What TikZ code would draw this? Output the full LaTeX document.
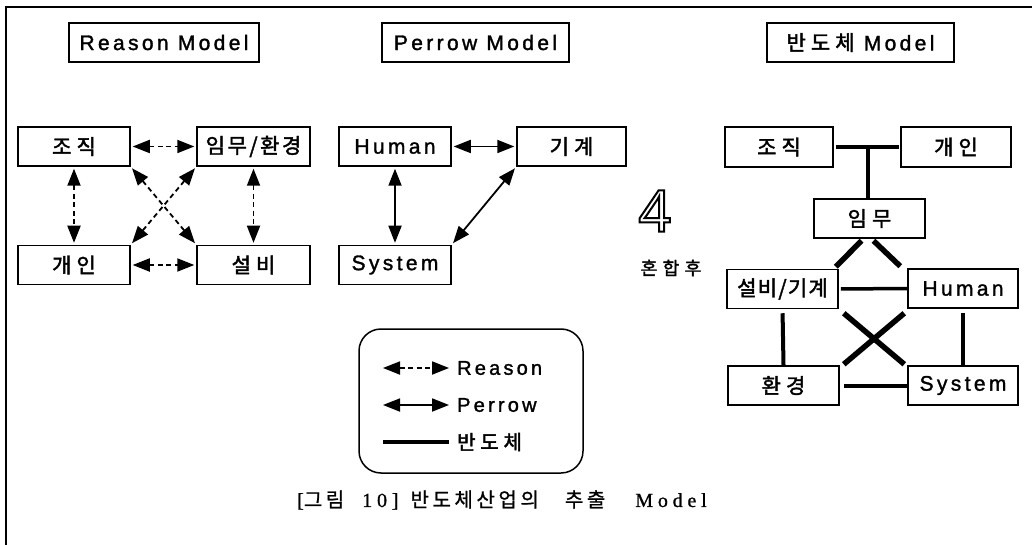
\documentclass[tikz,border=0pt]{standalone}
\usepackage{fontspec}
\setmainfont{Liberation Sans}[LetterSpace=16,FakeBold=1.5]
\newfontfamily\korfont{Noto Sans CJK KR}[LetterSpace=24,FakeBold=2]
\newfontfamily\capkor{Noto Sans CJK KR}[LetterSpace=18,FakeBold=1]
\newfontfamily\capser{Liberation Serif}[LetterSpace=24,FakeBold=1]
\newfontfamily\bigfour{Liberation Sans}
\newcommand\kor[1]{{\korfont #1}}
\usetikzlibrary{arrows.meta,calc}
\begin{document}
\begin{tikzpicture}[x=1pt,y=-1pt,
  box/.style={draw,line width=1.5pt,inner sep=0pt,minimum height=39pt,
    font=\fontsize{21}{21}\selectfont},
  tip/.style={{Triangle[length=17pt,width=13pt]}-{Triangle[length=17pt,width=13pt]}},
  reason/.style={line width=1.8pt,dash pattern=on 5pt off 3.5pt,tip,
    shorten <=2pt,shorten >=2pt},
  perrow/.style={line width=1.8pt,tip,shorten <=2pt,shorten >=2pt},
  semi/.style={line width=4pt},
  semix/.style={line width=5.5pt}]
\useasboundingbox (0,0) rectangle (1032,545);
% frame
\draw[line width=2pt] (6,545) -- (6,7) -- (1032,7);
% titles
\node[box,minimum width=190pt] (rt) at (164,42.5) {Reason Model};
\node[box,minimum width=187pt] (pt) at (475.5,42.5) {Perrow Model};
\node[box,minimum width=187pt] (bt) at (860.5,42.5) {\kor{반도체} Model};
% Reason model
\node[box,minimum width=112pt] (r1) at (74,146.5) {\kor{조직}};
\node[box,minimum width=113pt] (r2) at (253.5,146.5) {{\korfont\addfontfeature{LetterSpace=12}임무/환경}};
\node[box,minimum width=112pt] (r3) at (74,265) {\kor{개인}};
\node[box,minimum width=113pt] (r4) at (253.5,265) {\kor{설비}};
\draw[reason] (r1.east) -- (r2.west);
\draw[reason] (r3.east) -- (r4.west);
\draw[reason] (r1.south) -- (r3.north);
\draw[reason] (r2.south) -- (r4.north);
\draw[reason] (r1.south east) -- (r4.north west);
\draw[reason] (r2.south west) -- (r3.north east);
% Perrow model
\node[box,minimum width=112pt] (p1) at (395,146.5) {Human};
\node[box,minimum width=109pt] (p2) at (571.5,146.5) {\kor{기계}};
\node[box,minimum width=112pt] (p3) at (395,265) {System};
\draw[perrow] (p1.east) -- (p2.west);
\draw[perrow] (p1.south) -- (p3.north);
\draw[perrow] (p2.south west) -- (p3.north east);
% middle
\node (four) at (655,211) {\bigfour\fontsize{60}{60}\selectfont\special{pdf:literal direct 1 Tr 2 w}4\special{pdf:literal direct 0 Tr}};
\node[font=\fontsize{18}{18}\selectfont] (mix) at (671,268) {{\korfont\addfontfeature{LetterSpace=30}혼합후}};
% semiconductor model
\node[box,minimum width=108pt,minimum height=40pt] (b1) at (779,147) {\kor{조직}};
\node[box,minimum width=110pt,minimum height=40pt] (b2) at (956,147) {\kor{개인}};
\node[box,minimum width=111pt] (b3) at (869.5,218.5) {\kor{임무}};
\node[box,minimum width=111pt] (b4) at (782.5,289) {{\korfont\addfontfeature{LetterSpace=6}설비/기계}};
\node[box,minimum width=110pt] (b5) at (963,288.5) {Human};
\node[box,minimum width=111pt] (b6) at (783.5,385.5) {\kor{환경}};
\node[box,minimum width=110pt] (b7) at (963,385.5) {System};
\coordinate (j) at (868,147);
\draw[semi,shorten <=2pt,shorten >=1pt] (b1.east) -- (b2.west);
\draw[semi] (j) -- (j |- b3.north);
\draw[semix] ($(b3.south)+(-8,2)$) -- ($(b4.north east)+(-3,-2)$);
\draw[semix] ($(b3.south)+(4,2)$) -- ($(b5.north west)+(-7,-2)$);
\draw[line width=3.5pt,shorten <=2pt] (b4.east) -- (b5.west);
\draw[semix] ($(b4.south east)+(5,4)$) -- ($(b7.north west)+(-3,-1)$);
\draw[semix] ($(b5.north west |- b4.south)+(-3,4)$) -- ($(b6.north east)+(4,-1)$);
\draw[semi,shorten <=4pt] (b4.south) -- (b6.north);
\draw[semi,shorten <=4pt] (b5.south) -- (b7.north);
\draw[semi,shorten <=4pt] (b6.east) -- (b7.west);
% legend
\node[draw,line width=1.5pt,rounded corners=22pt,minimum width=224pt,minimum height=144pt] (leg) at (471,401) {};
\coordinate (l1a) at (383,368); \coordinate (l1b) at (449,368);
\coordinate (l2a) at (383,405); \coordinate (l2b) at (449,405);
\coordinate (l3a) at (383,442); \coordinate (l3b) at (449,442);
\draw[line width=1.8pt,dash pattern=on 5pt off 3.5pt,tip] (l1a) -- (l1b);
\draw[line width=1.8pt,tip] (l2a) -- (l2b);
\draw[semi] (l3a) -- (l3b);
\node[anchor=west,inner sep=0pt,font=\fontsize{20}{20}\selectfont] (t1) at (457,368) {Reason};
\node[anchor=west,inner sep=0pt,font=\fontsize{20}{20}\selectfont] (t2) at (457,405) {Perrow};
\node[anchor=west,inner sep=0pt,font=\fontsize{20}{20}\selectfont] (t3) at (457,442) {\kor{반도체}};
% caption
\node[anchor=west,inner sep=0pt,font=\fontsize{20}{20}\selectfont] (cap) at (297,500)
  {{\capser[}{\capkor 그림}\hspace{18pt}{\capser 10]}\hspace{12pt}{\capkor 반도체산업의}\hspace{26pt}{\capkor 추출}\hspace{30pt}{\capser Model}};
\end{tikzpicture}
\end{document}
